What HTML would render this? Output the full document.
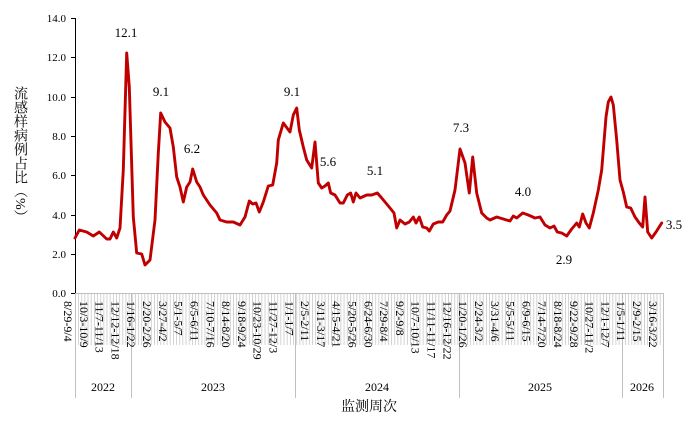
<!DOCTYPE html>
<html><head><meta charset="utf-8"><style>
html,body{margin:0;padding:0;background:#fff;}
svg{display:block;font-family:"Liberation Serif","Noto Serif CJK SC",serif;}
#yt{position:absolute;left:10px;top:0;height:310px;width:18px;display:flex;align-items:center;justify-content:center;}
#yt span{writing-mode:vertical-rl;font-family:"Liberation Serif","Noto Serif CJK SC",serif;font-size:14px;line-height:18px;color:#000;}
</style></head><body>
<div style="position:relative;width:694px;height:424px;">
<svg width="694" height="424" viewBox="0 0 694 424" xmlns="http://www.w3.org/2000/svg">
<defs>
<pattern id="tk" x="75" y="0" width="3.1613" height="424" patternUnits="userSpaceOnUse">
<line x1="0.3" y1="0" x2="0.3" y2="424" stroke="#c0c0c0" stroke-width="0.8"/>
</pattern>
</defs>
<rect x="75" y="293" width="588" height="52" fill="url(#tk)"/>
<g stroke="#c0c0c0" stroke-width="1">
<line x1="75.5" y1="293" x2="75.5" y2="398"/>
<line x1="131.5" y1="293" x2="131.5" y2="398"/>
<line x1="295.5" y1="293" x2="295.5" y2="398"/>
<line x1="459.5" y1="293" x2="459.5" y2="398"/>
<line x1="622.5" y1="293" x2="622.5" y2="398"/>
<line x1="663.5" y1="293" x2="663.5" y2="398"/>
<line x1="75" y1="293.5" x2="663" y2="293.5"/>
</g>
<g stroke="#000" stroke-width="1">
<line x1="75.5" y1="18" x2="75.5" y2="293"/>
<line x1="71" y1="293.5" x2="75" y2="293.5"/>
<line x1="71" y1="254.5" x2="75" y2="254.5"/>
<line x1="71" y1="215.5" x2="75" y2="215.5"/>
<line x1="71" y1="175.5" x2="75" y2="175.5"/>
<line x1="71" y1="136.5" x2="75" y2="136.5"/>
<line x1="71" y1="97.5" x2="75" y2="97.5"/>
<line x1="71" y1="57.5" x2="75" y2="57.5"/>
<line x1="71" y1="18.5" x2="75" y2="18.5"/>
</g>
<g font-size="11" text-anchor="end" fill="#000">
<text x="66" y="297">0.0</text>
<text x="66" y="258">2.0</text>
<text x="66" y="219">4.0</text>
<text x="66" y="179">6.0</text>
<text x="66" y="140">8.0</text>
<text x="66" y="101">10.0</text>
<text x="66" y="61">12.0</text>
<text x="66" y="22">14.0</text>
</g>
<polyline fill="none" stroke="#c00000" stroke-width="2.9" stroke-linejoin="round" stroke-linecap="round" points="
75,238 79.3,230 86.7,232 93.3,236 99.3,232 106.7,239 110,239 113.3,232 116.7,238 120,228 123.3,170 126.7,53 129.3,87 133.3,217 136.7,253 141.7,254 145,265 150,260 155,220 158.3,153 160.7,113 165,122 170,128 173.3,147 176.7,177 180,187 183.3,202 186.7,187 190,182 192.7,169 196.7,182 200,187 203.3,195 210,205 216.7,213 220,220 226.7,222 233.3,222 240,225 245,217 249.3,201 252.7,204 256,203 259.3,212 263.3,202 268.3,186 272.7,185 276.7,163 278.3,140 283.3,123 290,132 293.3,115 296.7,108 299.3,130 303.3,147 306.7,160 311.7,168 315,142 318.3,183 321.7,188 325,186 328.3,183 330.7,193 335,195 340,203 343.3,203 347.3,195 350.7,193 353.3,202 356,193 360,198 366.7,195 371.7,195 377.3,193 381.7,198 386.7,204 390,208 394,213 396.7,228 400,220 405,224 409.3,222 413.3,217 416,223 419.3,217 422.7,227 426.7,228 429.3,231 433.3,224 438.3,222 442.7,222 446.7,215 450,211 455,190 460,149 465,163 469.3,193 472.7,157 476.7,193 481.7,213 486.7,218 490,220 496.7,217 503.3,219 510,221 513.3,216 516.7,218 522.7,213 528.3,215 535,218 540,217 545,225 550,228 554,226 557.3,232 561.7,233 566.7,236 571.7,229 576.7,223 579.3,227 582.7,214 586,223 589.3,228 593.3,213 598.3,190 601.7,170 606,117 608.3,102 611,97 613.3,105 616.7,140 620,180 623.3,192 626.7,207 630.7,208 635,217 639.3,223 642.7,227 645,197 647.7,232 651.7,238 656,232 661.7,223"/>
<g font-size="13" text-anchor="middle" fill="#000">
<text x="126" y="37">12.1</text>
<text x="161" y="96">9.1</text>
<text x="192" y="153">6.2</text>
<text x="292" y="96">9.1</text>
<text x="328" y="166">5.6</text>
<text x="375" y="175">5.1</text>
<text x="461" y="132">7.3</text>
<text x="523" y="196">4.0</text>
<text x="564" y="264">2.9</text>
<text x="674" y="229">3.5</text>
</g>
<g font-size="12" fill="#000" dominant-baseline="central">
<text transform="translate(68,301) rotate(90)">8/29-9/4</text>
<text transform="translate(83.8,301) rotate(90)">10/3-10/9</text>
<text transform="translate(99.6,301) rotate(90)">11/7-11/13</text>
<text transform="translate(115.4,301) rotate(90)">12/12-12/18</text>
<text transform="translate(131.2,301) rotate(90)">1/16-1/22</text>
<text transform="translate(147,301) rotate(90)">2/20-2/26</text>
<text transform="translate(162.8,301) rotate(90)">3/27-4/2</text>
<text transform="translate(178.6,301) rotate(90)">5/1-5/7</text>
<text transform="translate(194.4,301) rotate(90)">6/5-6/11</text>
<text transform="translate(210.3,301) rotate(90)">7/10-7/16</text>
<text transform="translate(226.1,301) rotate(90)">8/14-8/20</text>
<text transform="translate(241.9,301) rotate(90)">9/18-9/24</text>
<text transform="translate(257.7,301) rotate(90)">10/23-10/29</text>
<text transform="translate(273.5,301) rotate(90)">11/27-12/3</text>
<text transform="translate(289.3,301) rotate(90)">1/1-1/7</text>
<text transform="translate(305.1,301) rotate(90)">2/5-2/11</text>
<text transform="translate(320.9,301) rotate(90)">3/11-3/17</text>
<text transform="translate(336.7,301) rotate(90)">4/15-4/21</text>
<text transform="translate(352.5,301) rotate(90)">5/20-5/26</text>
<text transform="translate(368.3,301) rotate(90)">6/24-6/30</text>
<text transform="translate(384.1,301) rotate(90)">7/29-8/4</text>
<text transform="translate(399.9,301) rotate(90)">9/2-9/8</text>
<text transform="translate(415.7,301) rotate(90)">10/7-10/13</text>
<text transform="translate(431.5,301) rotate(90)">11/11-11/17</text>
<text transform="translate(447.3,301) rotate(90)">12/16-12/22</text>
<text transform="translate(463.2,301) rotate(90)">1/20-1/26</text>
<text transform="translate(479,301) rotate(90)">2/24-3/2</text>
<text transform="translate(494.8,301) rotate(90)">3/31-4/6</text>
<text transform="translate(510.6,301) rotate(90)">5/5-5/11</text>
<text transform="translate(526.4,301) rotate(90)">6/9-6/15</text>
<text transform="translate(542.2,301) rotate(90)">7/14-7/20</text>
<text transform="translate(558,301) rotate(90)">8/18-8/24</text>
<text transform="translate(573.8,301) rotate(90)">9/22-9/28</text>
<text transform="translate(589.6,301) rotate(90)">10/27-11/2</text>
<text transform="translate(605.4,301) rotate(90)">12/1-12/7</text>
<text transform="translate(621.2,301) rotate(90)">1/5-1/11</text>
<text transform="translate(637,301) rotate(90)">2/9-2/15</text>
<text transform="translate(652.8,301) rotate(90)">3/16-3/22</text>
</g>
<g font-size="12" text-anchor="middle" fill="#000">
<text x="103" y="391">2022</text>
<text x="213" y="391">2023</text>
<text x="377" y="391">2024</text>
<text x="540" y="391">2025</text>
<text x="642" y="391">2026</text>
</g>
<text x="369" y="411" font-size="14" text-anchor="middle">监测周次</text>
</svg>
<div id="yt"><span>流感样病例占比（%）</span></div>
</div>
</body></html>
